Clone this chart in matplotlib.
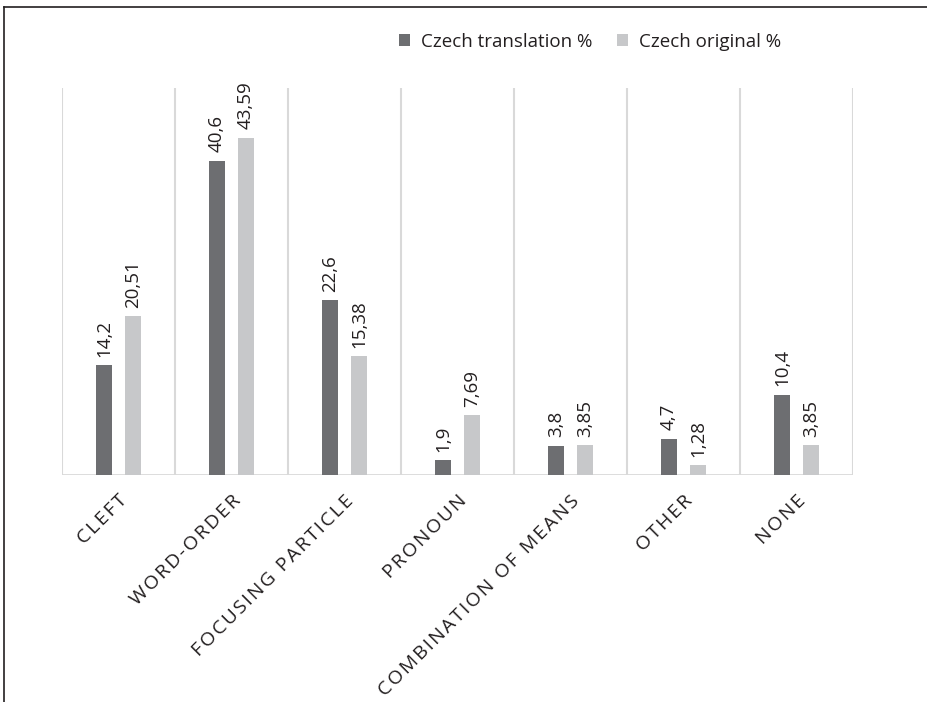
import matplotlib
matplotlib.use("Agg")
import matplotlib.pyplot as plt
from matplotlib.lines import Line2D
import numpy as np

categories = ["CLEFT", "WORD-ORDER", "FOCUSING PARTICLE", "PRONOUN",
              "COMBINATION OF MEANS", "OTHER", "NONE"]
translation = [14.2, 40.6, 22.6, 1.9, 3.8, 4.7, 10.4]
original = [20.51, 43.59, 15.38, 7.69, 3.85, 1.28, 3.85]
series_names = ["Czech translation %", "Czech original %"]

dark = "#6d6e71"
light = "#c7c8ca"
grid = "#d9d9d9"
txt = "#231f20"

plt.rcParams['font.family'] = ['Open Sans', 'DejaVu Sans']

fig = plt.figure(figsize=(9.28, 7.02), dpi=100)
ax = fig.add_axes([62 / 928, 1 - 475 / 702, (853 - 62) / 928, (475 - 88) / 702])

x = np.arange(len(categories))
w = 0.146
off = 0.128
b1 = ax.bar(x - off, translation, w, color=dark, label=series_names[0], zorder=3)
b2 = ax.bar(x + off, original, w, color=light, label=series_names[1], zorder=3)

def fmt(v):
    s = ("%.2f" % v).rstrip("0").rstrip(".")
    return s.replace(".", ",")

for bars, vals in [(b1, translation), (b2, original)]:
    for rect, v in zip(bars, vals):
        ax.annotate(fmt(v), (rect.get_x() + rect.get_width() / 2, rect.get_height()),
                    xytext=(0, 6), textcoords="offset points", rotation=90,
                    ha="center", va="bottom", fontsize=13.5, color=txt)

ax.set_xlim(-0.5, len(categories) - 0.5)
ax.set_ylim(0, 50)
for b in np.arange(-0.5, len(categories), 1.0):
    ax.axvline(b, color=grid, lw=1.5, zorder=1)
for s in ax.spines.values():
    s.set_visible(False)
ax.axhline(0, color=grid, lw=2, zorder=2)
ax.set_yticks([])
ax.set_xticks(x)
# Excel-style letter spacing on category labels
spaced = ["\u200a".join(c) for c in categories]
ax.set_xticklabels(spaced, rotation=45, ha="right", rotation_mode="anchor",
                   fontsize=14, color=txt)
ax.tick_params(axis="x", length=0, pad=12)

ax.legend(loc="center", bbox_to_anchor=(590 / 928, 1 - 42 / 702),
          bbox_transform=fig.transFigure, ncol=2, frameon=False, fontsize=13.5,
          handlelength=0.6, handleheight=0.6, handletextpad=0.6, columnspacing=1.3,
          labelcolor=txt)

fig.add_artist(Line2D([4 / 928, 4 / 928], [0, 1 - 7 / 702], color=txt, lw=1.2,
                      transform=fig.transFigure))
fig.add_artist(Line2D([4 / 928, 1], [1 - 7 / 702, 1 - 7 / 702], color=txt, lw=1.2,
                      transform=fig.transFigure))

fig.savefig("out.png", dpi=100, facecolor="white")
